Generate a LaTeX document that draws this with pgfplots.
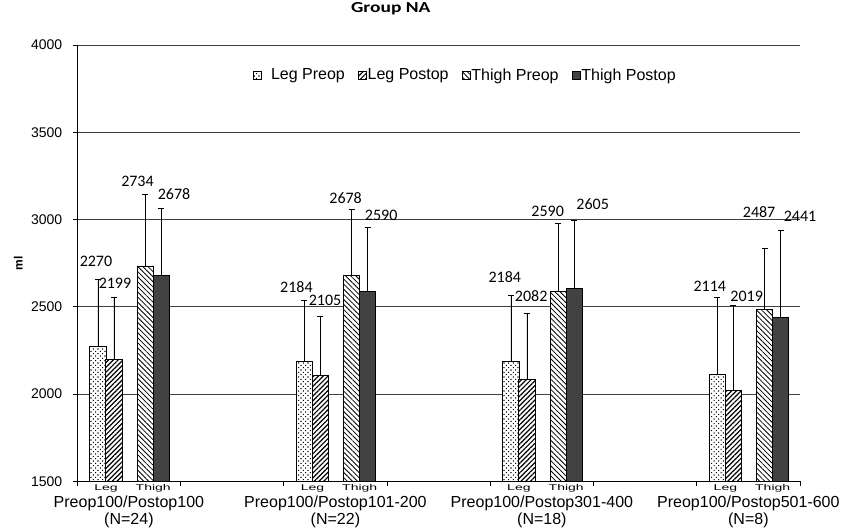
\documentclass[border=0pt]{standalone}
\usepackage{fontspec}
\setmainfont{Liberation Sans}
\newfontfamily\carlito{Carlito}
\usepackage{pgfplots}
\pgfplotsset{compat=1.18}
\usetikzlibrary{patterns.meta}
\tikzset{
  legpre/.style={fill=white, postaction={pattern={Dots[distance=3.3pt,radius=0.75pt,angle=45]}}},
  legpost/.style={fill=white, postaction={pattern={Lines[angle=45,distance=3.4pt,line width=1.2pt]}}},
  thpre/.style={fill=white, postaction={pattern={Lines[angle=-45,distance=3.6pt,line width=0.8pt]}}},
  thpost/.style={fill=black!74},
}
\pgfplotsset{
  myleg/.style={legend image code/.code={\draw[##1,line width=0.8pt] (0pt,-4pt) rectangle (8pt,4pt);}},
  mybar/.style={ybar, bar shift=0pt, bar width=0.156, draw=black, line width=0.8pt,
    error bars/y dir=plus, error bars/y explicit,
    error bars/error bar style={line width=0.8pt, black},
    error bars/error mark options={rotate=90, mark size=3pt, line width=0.8pt, black}},
}
\begin{document}
\begin{tikzpicture}
\useasboundingbox (-77.3pt,-49.75pt) rectangle (764.7pt,481.25pt);
\begin{axis}[
  scale only axis, width=722.7pt, height=436.25pt,
  xmin=0, xmax=7, ymin=1500, ymax=4000,
  axis lines*=left,
  axis line style={black, line width=0.9pt},
  xtick={0,1,...,7}, xticklabels={},
  ytick={1500,2000,...,4000},
  tick align=outside,
  major tick length=4.5pt,
  tick style={black, line width=0.8pt},
  ymajorgrids, grid style={black!75, line width=0.9pt},
  /pgf/number format/assume math mode=true,
  /pgf/number format/1000 sep={},
  yticklabel style={font=\fontsize{14}{14}\selectfont, xshift=-7pt},
  clip=false,
  title={\scalebox{1.27}[1]{Group NA}},
  title style={font=\carlito\bfseries\fontsize{15.3}{15}\selectfont, at={(axis description cs:0.4337,1.0596)}, anchor=base, inner sep=0pt},
  ylabel={ml},
  ylabel style={font=\bfseries\fontsize{12}{12}\selectfont, at={(axis description cs:-0.0816,0.5)}, anchor=center},
  legend columns=4,
  legend style={draw=none, fill=none, at={(axis cs:3.755,3828)}, anchor=center,
    font=\fontsize{16}{16}\selectfont,
    nodes={inner sep=1pt},
    /tikz/every even column/.append style={column sep=12pt}},
]
\addplot[mybar, legpre, myleg] coordinates {(0.2,2270) +- (0,389) (2.2,2184) +- (0,351) (4.2,2184) +- (0,383) (6.2,2114) +- (0,438)};
\addlegendentry{\hspace{8pt}Leg Preop}
\addplot[mybar, legpost, myleg] coordinates {(0.355,2199) +- (0,355) (2.355,2105) +- (0,342) (4.355,2082) +- (0,382) (6.355,2019) +- (0,491)};
\addlegendentry{Leg Postop}
\addplot[mybar, thpre, myleg] coordinates {(0.657,2734) +- (0,407) (2.657,2678) +- (0,382) (4.657,2590) +- (0,387) (6.657,2487) +- (0,345)};
\addlegendentry{Thigh Preop}
\addplot[mybar, thpost, myleg] coordinates {(0.814,2678) +- (0,383) (2.814,2590) +- (0,364) (4.814,2605) +- (0,391) (6.814,2441) +- (0,499)};
\addlegendentry{Thigh Postop}
% value labels
\begin{scope}[every node/.style={font=\carlito\fontsize{16}{16}\selectfont, inner sep=0pt}]
\node at (axis cs:0.181,2762) {2270};
\node at (axis cs:0.365,2636) {2199};
\node at (axis cs:0.583,3217) {2734};
\node at (axis cs:0.937,3143) {2678};
\node at (axis cs:2.122,2615) {2184};
\node at (axis cs:2.400,2539) {2105};
\node at (axis cs:2.599,3121) {2678};
\node at (axis cs:2.943,3026) {2590};
\node at (axis cs:4.141,2668) {2184};
\node at (axis cs:4.396,2562) {2082};
\node at (axis cs:4.556,3045) {2590};
\node at (axis cs:4.992,3087) {2605};
\node at (axis cs:6.126,2615) {2114};
\node at (axis cs:6.483,2562) {2019};
\node at (axis cs:6.604,3043) {2487};
\node at (axis cs:7.000,3016) {2441};
\end{scope}
% inner category labels
\begin{scope}[every node/.style={anchor=base, inner sep=0pt, yshift=-8.75pt}]
\node at (axis cs:0.2775,1500) {\scalebox{1}[0.6]{\fontsize{14}{14}\selectfont Leg}};
\node at (axis cs:0.7355,1500) {\scalebox{1}[0.6]{\fontsize{14}{14}\selectfont Thigh}};
\node at (axis cs:2.2775,1500) {\scalebox{1}[0.6]{\fontsize{14}{14}\selectfont Leg}};
\node at (axis cs:2.7355,1500) {\scalebox{1}[0.6]{\fontsize{14}{14}\selectfont Thigh}};
\node at (axis cs:4.2775,1500) {\scalebox{1}[0.6]{\fontsize{14}{14}\selectfont Leg}};
\node at (axis cs:4.7355,1500) {\scalebox{1}[0.6]{\fontsize{14}{14}\selectfont Thigh}};
\node at (axis cs:6.2775,1500) {\scalebox{1}[0.6]{\fontsize{14}{14}\selectfont Leg}};
\node at (axis cs:6.7355,1500) {\scalebox{1}[0.6]{\fontsize{14}{14}\selectfont Thigh}};
\end{scope}
% outer category labels
\begin{scope}[every node/.style={anchor=base, inner sep=0pt, font=\fontsize{16}{16}\selectfont}]
\node[yshift=-26pt] at (axis cs:0.5,1500) {Preop100/Postop100};
\node[yshift=-43pt] at (axis cs:0.5,1500) {(N=24)};
\node[yshift=-26pt] at (axis cs:2.5,1500) {Preop100/Postop101-200};
\node[yshift=-43pt] at (axis cs:2.5,1500) {(N=22)};
\node[yshift=-26pt] at (axis cs:4.5,1500) {Preop100/Postop301-400};
\node[yshift=-43pt] at (axis cs:4.5,1500) {(N=18)};
\node[yshift=-26pt] at (axis cs:6.5,1500) {Preop100/Postop501-600};
\node[yshift=-43pt] at (axis cs:6.5,1500) {(N=8)};
\end{scope}
\end{axis}
\end{tikzpicture}
\end{document}
